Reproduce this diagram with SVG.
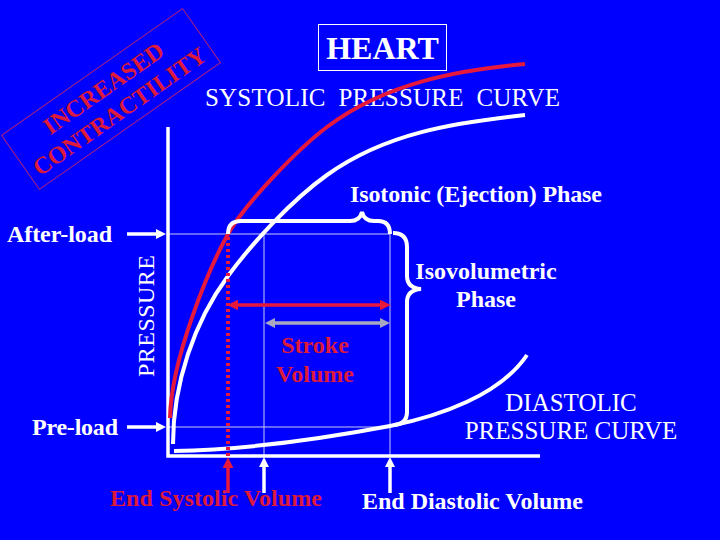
<svg xmlns="http://www.w3.org/2000/svg" width="720" height="540" viewBox="0 0 720 540">
<style>
text{font-family:"Liberation Serif","Times New Roman",serif;}
.b{font-weight:bold;font-size:24px;}
.r{font-weight:normal;font-size:25px;}
.w{fill:#ffffff;}
.red{fill:#dc1a3c;}
.thin{stroke:#c8c8f0;stroke-width:1;fill:none;}
.wl{stroke:#ffffff;stroke-width:4;fill:none;}
.rl{stroke:#e6193c;stroke-width:4;fill:none;}
</style>
<defs>
<marker id="aw" viewBox="0 0 10 10" refX="3" refY="5" markerWidth="10" markerHeight="10" markerUnits="userSpaceOnUse" orient="auto-start-reverse"><path d="M0,0 L10,5 L0,10 z" fill="#ffffff"/></marker>
<marker id="ar" viewBox="0 0 10 10" refX="3" refY="5" markerWidth="11" markerHeight="11" markerUnits="userSpaceOnUse" orient="auto-start-reverse"><path d="M0,0 L10,5 L0,10 z" fill="#e6193c"/></marker>
<marker id="ag" viewBox="0 0 10 10" refX="3" refY="5" markerWidth="10" markerHeight="10" markerUnits="userSpaceOnUse" orient="auto-start-reverse"><path d="M0,0 L10,5 L0,10 z" fill="#a8a8c0"/></marker>
</defs>
<rect width="720" height="540" fill="#0000ff"/>

<g id="contractility" transform="translate(111,99) rotate(-35)">
<rect x="-110.5" y="-33" width="221" height="66" fill="none" stroke="#b0207a" stroke-width="1"/>
<text class="b red" x="0" y="-5" text-anchor="middle" font-size="23">INCREASED</text>
<text class="b red" x="0" y="23" text-anchor="middle" font-size="23">CONTRACTILITY</text>
</g>

<g id="heart">
<rect x="318.5" y="24.5" width="128" height="46" fill="none" stroke="#ffffff" stroke-width="1"/>
<text class="w" x="382.5" y="59" text-anchor="middle" font-weight="bold" font-size="32">HEART</text>
</g>

<g id="systolic-label">
<text class="r w" x="205" y="106" xml:space="preserve" textLength="355" lengthAdjust="spacing">SYSTOLIC  PRESSURE  CURVE</text>
</g>

<g id="connectors">
<!-- grid lines -->
<line class="thin" x1="168" y1="234" x2="390" y2="234"/>
<line class="thin" x1="168" y1="427" x2="390" y2="427"/>
<line class="thin" x1="264" y1="234" x2="264" y2="456"/>
<line class="thin" x1="390" y1="234" x2="390" y2="456"/>
<!-- axes -->
<path d="M168,127 L168,456 L540,456" fill="none" stroke="#ffffff" stroke-width="3.5"/>
<!-- systolic curves -->
<path class="wl" d="M173,444 C173,383 194.7,321 228,276 C253,242 292,200 327,175 C385,133 455,122.5 525,115"/>
<path class="rl" d="M170,418 C171,360 208.5,269 228,234 C245,203.5 299,148 327,127 C387,82 460,70 525,64"/>
<!-- diastolic curve -->
<path class="wl" d="M174,451 C230,450 300,443 390,426 C440,416 500,395 527,355"/>
<!-- end systolic dotted line -->
<line x1="228" y1="237" x2="228" y2="456" stroke="#e6193c" stroke-width="4" stroke-dasharray="3 3"/>
<!-- braces -->
<path class="wl" stroke-width="3.5" d="M228,234 Q228,221 241,221 L350,221 Q360,221 362,212 Q364,221 374,221 L378,221 Q390,221 390,234"/>
<path class="wl" stroke-width="3.5" d="M393,233 Q407,233 407,247 L407,276 Q407,288 421,289 Q407,290 407,302 L407,412 Q407,424 394,425"/>
<!-- load arrows -->
<line x1="127" y1="234" x2="159" y2="234" stroke="#ffffff" stroke-width="3.5" marker-end="url(#aw)"/>
<line x1="127" y1="427" x2="159" y2="427" stroke="#ffffff" stroke-width="3.5" marker-end="url(#aw)"/>
<!-- volume arrows -->
<line x1="235" y1="305" x2="383" y2="305" stroke="#e6193c" stroke-width="3.5" marker-start="url(#ar)" marker-end="url(#ar)"/>
<line x1="272" y1="323" x2="383" y2="323" stroke="#a8a8c0" stroke-width="3.5" marker-start="url(#ag)" marker-end="url(#ag)"/>
<!-- bottom arrows -->
<line x1="228" y1="493" x2="228" y2="465" stroke="#e6193c" stroke-width="3.5" marker-end="url(#ar)"/>
<line x1="264" y1="493" x2="264" y2="464" stroke="#ffffff" stroke-width="3.5" marker-end="url(#aw)"/>
<line x1="390" y1="493" x2="390" y2="464" stroke="#ffffff" stroke-width="3.5" marker-end="url(#aw)"/>
</g>

<g id="isotonic"><text class="b w" x="350" y="202" textLength="252" lengthAdjust="spacing">Isotonic (Ejection) Phase</text></g>
<g id="isovolumetric">
<text class="b w" x="486" y="279" text-anchor="middle">Isovolumetric</text>
<text class="b w" x="486" y="307" text-anchor="middle">Phase</text>
</g>
<g id="afterload"><text class="b w" x="7" y="242" textLength="105" lengthAdjust="spacing">After-load</text></g>
<g id="preload"><text class="b w" x="32" y="435" textLength="86" lengthAdjust="spacing">Pre-load</text></g>
<g id="pressure-axis"><text class="w" transform="translate(154,316) rotate(-90)" text-anchor="middle" font-size="24" textLength="122" lengthAdjust="spacing">PRESSURE</text></g>
<g id="stroke-volume">
<text class="b red" x="315" y="353" text-anchor="middle">Stroke</text>
<text class="b red" x="315" y="382" text-anchor="middle">Volume</text>
</g>
<g id="diastolic-label">
<text class="r w" x="571" y="411" text-anchor="middle">DIASTOLIC</text>
<text class="r w" x="571" y="439" text-anchor="middle">PRESSURE CURVE</text>
</g>
<g id="esv"><text class="b red" x="110" y="506" textLength="212" lengthAdjust="spacing">End Systolic Volume</text></g>
<g id="edv"><text class="b w" x="362" y="509" textLength="221" lengthAdjust="spacing">End Diastolic Volume</text></g>
</svg>
